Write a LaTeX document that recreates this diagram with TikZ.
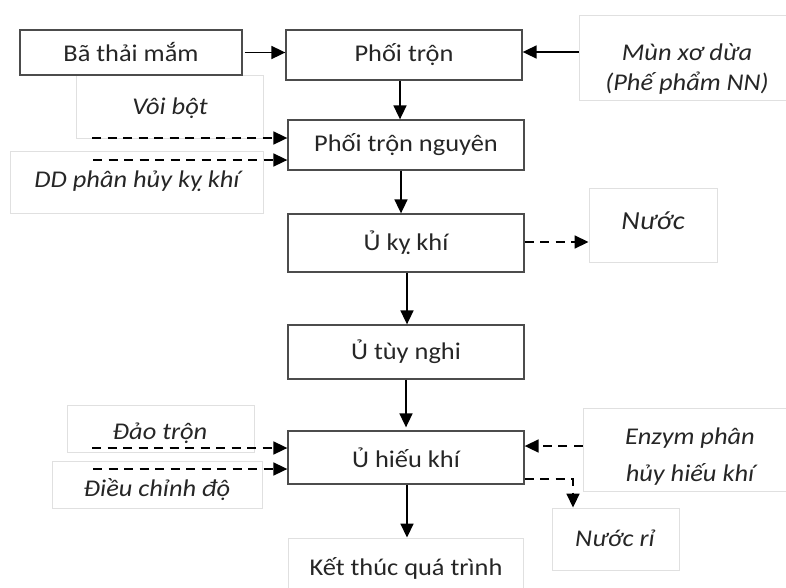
\documentclass[tikz,border=0pt]{standalone}
\usepackage{fontspec}
\setmainfont[FakeStretch=1.1]{Carlito}
\usetikzlibrary{arrows.meta, calc}

\begin{document}
\begin{tikzpicture}[x=1pt, y=-1pt,
    every node/.style={font=\fontsize{24}{30}\selectfont, inner sep=0pt, text=black!85},
    buoc/.style={draw=black!70, line width=1.3pt, fill=white, minimum width=236pt, minimum height=52pt},
    nhan/.style={draw=black!12, line width=0.9pt, fill=white},
    chu/.style={font=\fontsize{24}{30}\selectfont\itshape, align=center},
    muiten/.style={-{Triangle[length=14pt,width=13pt]}, line width=1.7pt},
    netdut/.style={muiten, dash pattern=on 9pt off 6.5pt}]
    \useasboundingbox (0,0) rectangle (786,587);

    %cac o ghi chu (vien mo)
    \node [nhan, minimum width=187pt, minimum height=63pt] (voi) at (169.5,106.5) {};
    \node [nhan, minimum width=253pt, minimum height=62pt] (dd) at (136.5,182) {};
    \node [nhan, minimum width=211pt, minimum height=85pt] (mun) at (684.5,57.5) {};
    \node [nhan, minimum width=128pt, minimum height=74pt] (nuoc) at (653,225) {};
    \node [nhan, minimum width=187pt, minimum height=47pt] (dao) at (160.5,428.5) {};
    \node [nhan, minimum width=210pt, minimum height=47pt] (dieu) at (157,484.5) {};
    \node [nhan, minimum width=207pt, minimum height=83pt] (enzym) at (686.5,449.5) {};
    \node [nhan, minimum width=127pt, minimum height=62pt] (nuocri) at (615.5,539) {};

    %chu trong o ghi chu
    \node [chu] (voitxt) at (170,108) {Vôi bột};
    \node [chu] (ddtxt) at (137,181) {DD phân hủy kỵ khí};
    \node [chu] (muntxt) at (687,69) {Mùn xơ dừa\\(Phế phẩm NN)};
    \node [chu, font=\fontsize{26}{30}\selectfont\itshape] (nuoctxt) at (653,221) {Nước};
    \node [chu] (daotxt) at (160,433) {Đảo trộn};
    \node [chu] (dieutxt) at (157,490) {Điều chỉnh độ};
    \node [chu] (enzymtxt) at (690,457) {Enzym phân\\[7pt]hủy hiếu khí};
    \node [chu] (nuocritxt) at (615,538) {Nước rỉ};

    %cac buoc chinh
    \node [buoc, minimum width=222pt, minimum height=45pt] (bat) at (131,52.5) {Bã thải mắm};
    \node [buoc, minimum height=50pt] (phoi) at (404,55) {Phối trộn};
    \node [buoc, minimum height=50pt] (ptn) at (406,145) {Phối trộn nguyên};
    \node [buoc, minimum height=58pt] (uky) at (406,243) {Ủ kỵ khí};
    \node [buoc, minimum height=54pt] (utn) at (406,352) {Ủ tùy nghi};
    \node [buoc, minimum height=53pt] (uhk) at (406,457.5) {Ủ hiếu khí};
    \node [nhan, minimum width=235pt, minimum height=60pt] (ket) at (406,568) {Kết thúc quá trình};

    %diem dau cac mui ten net dut
    \coordinate (voiin) at (92,138);
    \coordinate (ddin) at (93,160);
    \coordinate (daoin) at (92,448);
    \coordinate (dieuin) at (93,469);

    %mui ten lien
    \draw [muiten] ([xshift=2pt]bat.east) -- (bat.east -| phoi.west);
    \draw [muiten] ([yshift=5.5pt]mun.west) -- ([yshift=5.5pt]mun.west -| phoi.east);
    \draw [muiten] ([xshift=-4pt]phoi.south) -- ([xshift=-4pt]phoi.south |- ptn.north);
    \draw [muiten] ([xshift=-5pt]ptn.south) -- ([xshift=-5pt]ptn.south |- uky.north);
    \draw [muiten] ([xshift=1pt]uky.south) -- ([xshift=1pt]uky.south |- utn.north);
    \draw [muiten] (utn.south) -- ([yshift=3pt]utn.south |- uhk.north);
    \draw [muiten] ([xshift=1pt]uhk.south) -- ([xshift=1pt]uhk.south |- ket.north);

    %mui ten net dut
    \draw [netdut] (voiin) -- (voiin -| ptn.west);
    \draw [netdut] (ddin) -- (ddin -| ptn.west);
    \draw [netdut] ([yshift=1pt]uky.east) -- ([yshift=1pt]uky.east -| nuoc.west);
    \draw [netdut] (daoin) -- (daoin -| uhk.west);
    \draw [netdut] (dieuin) -- (dieuin -| uhk.west);
    \draw [netdut] ([yshift=3.5pt]enzym.west) -- ([yshift=3.5pt]enzym.west -| uhk.east);
    \draw [netdut] ([yshift=-21.5pt]uhk.east) -| ([xshift=-42.5pt]nuocri.north);
\end{tikzpicture}
\end{document}
